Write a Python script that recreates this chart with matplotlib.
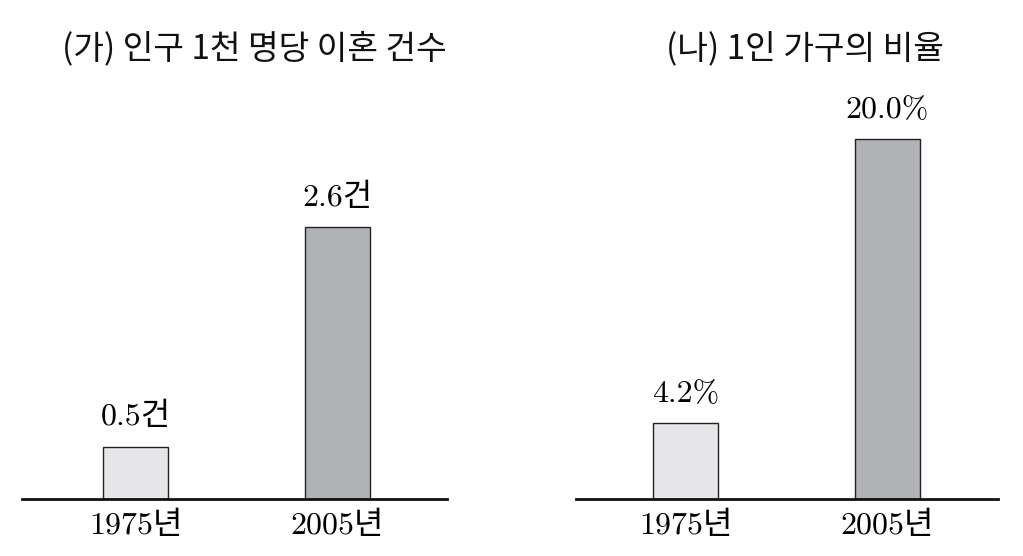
import matplotlib
matplotlib.use('Agg')
import matplotlib.pyplot as plt

# ── Data ──────────────────────────────────────────────────────────────────────
years = ['1975년', '2005년']
divorce = [0.5, 2.6]
divorce_labels = ['0.5건', '2.6건']
single_hh = [4.2, 20.0]
single_labels = ['4.2%', '20.0%']
titles = ['(가) 인구 1천 명당 이혼 건수', '(나) 1인 가구의 비율']

BAR_COLORS = ['#e6e6e8', '#b1b2b5']
SANS = ['Noto Sans CJK KR', 'DejaVu Sans']
SERIF = ['cmr10', 'Noto Sans CJK KR', 'DejaVu Serif']
plt.rcParams['axes.formatter.use_mathtext'] = True

W, H = 1023, 556
fig = plt.figure(figsize=(W / 100, H / 100), dpi=100)
fig.patch.set_facecolor('white')


def panel(px_left, px_width, values, labels, ylim_top, xlim, title, title_x):
    # axes placed in pixel terms of the reference (baseline at y=499)
    ax = fig.add_axes([px_left / W, (H - 499) / H, px_width / W, 400 / H])
    x = range(len(values))
    ax.bar(x, values, width=0.322, color=BAR_COLORS,
           edgecolor='#222222', linewidth=1.0, zorder=2)
    for xi, v, lbl in zip(x, values, labels):
        ax.annotate(lbl, xy=(xi, v), xytext=(0, 11), textcoords='offset points',
                    ha='center', va='bottom', fontsize=23, family=SERIF)
    ax.set_xlim(*xlim)
    ax.set_ylim(0, ylim_top)
    for s in ['top', 'right', 'left']:
        ax.spines[s].set_visible(False)
    ax.spines['bottom'].set_linewidth(2.0)
    ax.spines['bottom'].set_color('#111111')
    ax.set_yticks([])
    ax.set_xticks(list(x))
    ax.set_xticklabels(years, fontsize=23, family=SERIF)
    ax.tick_params(axis='x', length=0, pad=9)
    fig.text(title_x / W, 1 - 49 / H, title, ha='center', va='center',
             fontsize=24, family=SANS, color='#111111')
    return ax


panel(22, 425, divorce, divorce_labels, 400 / 104.6, (-0.562, 1.542), titles[0], 254)
panel(576, 422, single_hh, single_labels, 400 / 18.0, (-0.542, 1.547), titles[1], 805)

fig.savefig('out.png', dpi=100)
